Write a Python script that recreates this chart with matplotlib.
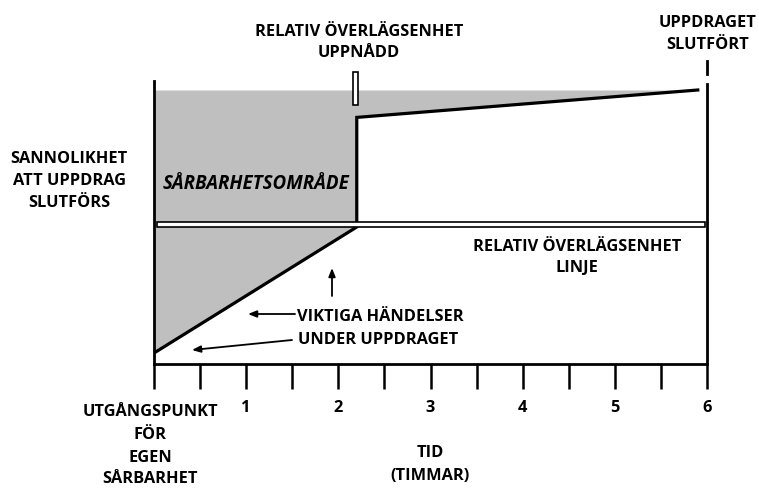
import matplotlib
matplotlib.use("Agg")
import matplotlib.pyplot as plt
from matplotlib.patches import Rectangle
import numpy as np

# ---- data ----
curve_time = [0.0, 2.2, 2.2, 5.9]          # hours
curve_prob = [0.04, 0.50, 0.90, 1.00]      # probability of mission success (relative)
fill_top = 1.0
superiority_level = 0.51
superiority_reached_time = 2.19
tick_positions = [0, 0.5, 1, 1.5, 2, 2.5, 3, 3.5, 4, 4.5, 5, 5.5, 6]
tick_labels = ["", "", "1", "", "2", "", "3", "", "4", "", "5", "", "6"]

W, H = 759, 489
fig = plt.figure(figsize=(W / 100, H / 100), dpi=100)
plt.rcParams['font.family'] = ['Open Sans', 'DejaVu Sans']

x0px, x6px, y0px, y1px, ytop_px = 154, 707, 365, 91, 82
ymax = (y0px - ytop_px) / (y0px - y1px)
ax = fig.add_axes([x0px / W, 1 - y0px / H, (x6px - x0px) / W, (y0px - ytop_px) / H])
ax.set_xlim(0, 6)
ax.set_ylim(0, ymax)

def X(px):
    return (px - x0px) / ((x6px - x0px) / 6)

def Y(py):
    return (y0px - py) / (y0px - y1px)

GRAY = "#BFBFBF"
ax.fill_between(curve_time, curve_prob, fill_top, color=GRAY, lw=0, zorder=1)
ax.plot(curve_time, curve_prob, color="black", lw=2.3, solid_joinstyle="miter", zorder=3)

# superiority line (hollow bar)
ax.add_patch(Rectangle((X(157), superiority_level - 2.5 / 274), X(705) - X(157), 5 / 274,
                       facecolor="white", edgecolor="black", lw=1.2, zorder=4))
# marker for superiority reached
ax.add_patch(Rectangle((superiority_reached_time - 2.5 / 92.17, Y(106)), 5 / 92.17, Y(73) - Y(106),
                       facecolor="white", edgecolor="black", lw=1.2, zorder=4, clip_on=False))

ax.spines["top"].set_visible(False)
for s in ["left", "bottom", "right"]:
    ax.spines[s].set_linewidth(2.0)
ax.spines["right"].set_bounds(0, Y(85))
ax.plot([6, 6], [Y(75), Y(62)], color="black", lw=2.0, clip_on=False)

fs = 11.8
ax.set_xticks(tick_positions)
ax.set_xticklabels(tick_labels, fontsize=fs, fontweight="bold")
ax.tick_params(axis="x", direction="out", length=18, width=1.8, pad=7)
ax.set_yticks([])

tkw = dict(fontsize=fs, fontweight="bold", ha="center", va="center", clip_on=False)

for txt, py in [("SANNOLIKHET", 159), ("ATT UPPDRAG", 181), ("SLUTFÖRS", 203)]:
    ax.text(X(69), Y(py), txt, **tkw)
ax.text(X(256), Y(184), "SÅRBARHETSOMRÅDE", fontsize=13.5, fontweight="bold", style="italic",
        ha="center", va="center", zorder=5)
for txt, py in [("RELATIV ÖVERLÄGSENHET", 32), ("UPPNÅDD", 53)]:
    ax.text(X(359), Y(py), txt, **tkw)
for txt, py in [("UPPDRAGET", 23), ("SLUTFÖRT", 45)]:
    ax.text(X(708), Y(py), txt, **tkw)
for txt, py in [("RELATIV ÖVERLÄGSENHET", 247), ("LINJE", 268)]:
    ax.text(X(577), Y(py), txt, **tkw)
for txt, py in [("UTGÅNGSPUNKT", 412), ("FÖR", 435), ("EGEN", 458), ("SÅRBARHET", 479)]:
    ax.text(X(150), Y(py), txt, **tkw)
for txt, py in [("TID", 453), ("(TIMMAR)", 476)]:
    ax.text(X(430), Y(py), txt, **tkw)

ax.text(X(297), Y(317), "VIKTIGA HÄNDELSER", fontsize=fs, fontweight="bold", ha="left", va="center")
ax.text(X(298), Y(340), "UNDER UPPDRAGET", fontsize=fs, fontweight="bold", ha="left", va="center")

ap = dict(arrowstyle="-|>,head_length=0.5,head_width=0.2", color="black", lw=1.3,
          shrinkA=0, shrinkB=0)
ax.annotate("", xy=(X(248), Y(315)), xytext=(X(295), Y(315)), arrowprops=ap)
ax.annotate("", xy=(X(192), Y(351)), xytext=(X(292), Y(341)), arrowprops=ap)
ax.annotate("", xy=(X(332), Y(269)), xytext=(X(332), Y(297)), arrowprops=ap)

fig.savefig("out.png", dpi=100)
